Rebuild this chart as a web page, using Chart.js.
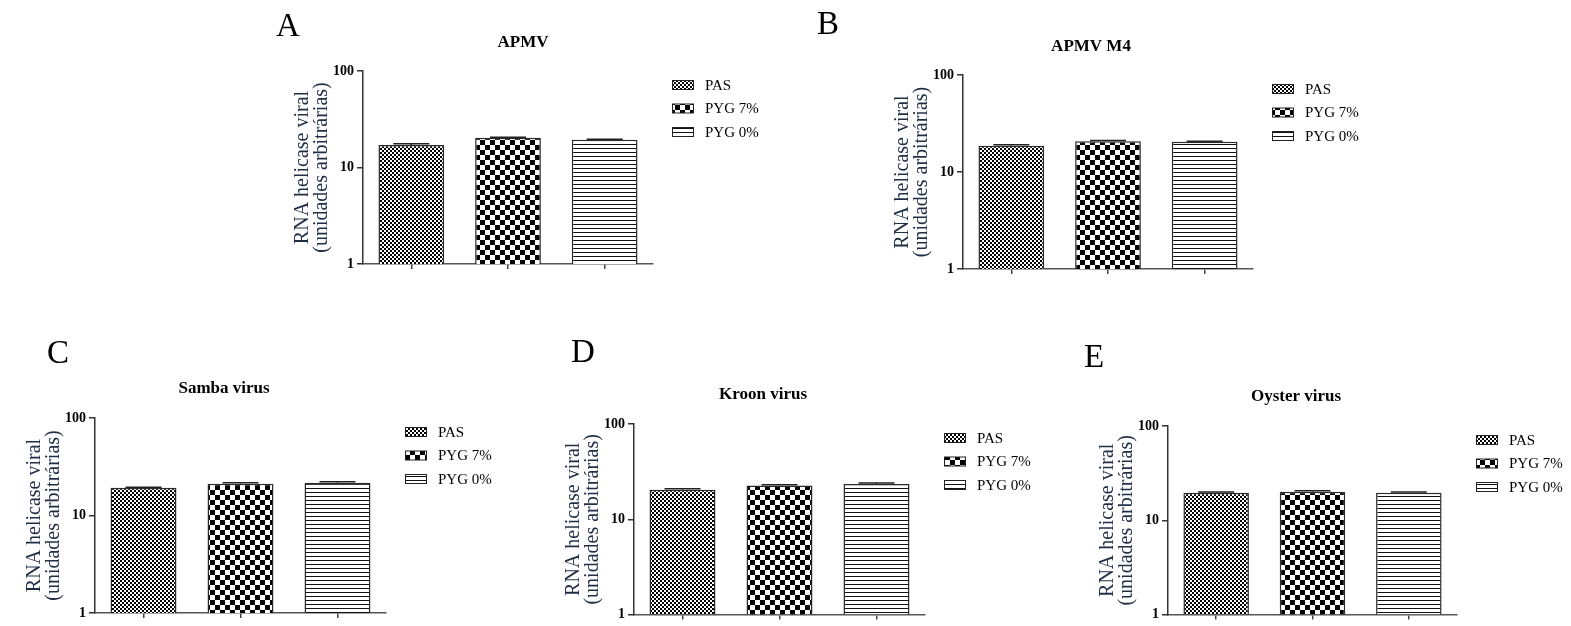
<!DOCTYPE html>
<html>
<head>
<meta charset="utf-8">
<script src="https://cdn.jsdelivr.net/npm/chart.js@4"></script>
<style>
  html, body { margin: 0; padding: 0; background: #fff; }
  #wrap { position: relative; width: 1571px; height: 626px; overflow: hidden; }
  #wrap canvas { position: absolute; left: 0; top: 0; }
</style>
</head>
<body>
<div id="wrap"></div>
<script>
// Data
const categories = ['PAS', 'PYG 7%', 'PYG 0%'];
const panelLetters = ['A', 'B', 'C', 'D', 'E'];
const panelTitles = ['APMV', 'APMV M4', 'Samba virus', 'Kroon virus', 'Oyster virus'];
const yTicks = [1, 10, 100];
const yLabel = ['RNA helicase viral', '(unidades arbitrárias)'];

const apmvValues = [17.1, 20.3, 19.4];
const apmvErrors = [0.5, 0.3, 0.2];
const apmvM4Values = [18.7, 20.7, 20.5];
const apmvM4Errors = [0.4, 0.4, 0.3];
const sambaValues = [19.3, 21.2, 21.7];
const sambaErrors = [0.2, 0.5, 0.5];
const kroonValues = [20.4, 22.6, 23.5];
const kroonErrors = [0.5, 0.5, 0.5];
const oysterValues = [19.6, 20.1, 19.6];
const oysterErrors = [0.4, 0.5, 0.4];

const seriesValues = [apmvValues, apmvM4Values, sambaValues, kroonValues, oysterValues];
const seriesErrors = [apmvErrors, apmvM4Errors, sambaErrors, kroonErrors, oysterErrors];

// where each panel sits on the page (plot area + title / letter)
const layouts = [
    { left: 363, right: 653, top: 71, bottom: 264, titleX: 523, titleY: 43, letterX: 276, letterY: 36 },
    { left: 963, right: 1253, top: 75, bottom: 269, titleX: 1091, titleY: 47, letterX: 817, letterY: 34 },
    { left: 95, right: 386, top: 418, bottom: 613, titleX: 224, titleY: 389, letterX: 47, letterY: 363 },
    { left: 634, right: 925, top: 424, bottom: 617, titleX: 763, titleY: 395, letterX: 571, letterY: 362 },
    { left: 1168, right: 1457, top: 426, bottom: 619, titleX: 1296, titleY: 397, letterX: 1084, letterY: 367 }
];

const W = 1571, H = 626;
const serif = '"Liberation Serif", "Times New Roman", serif';

function makePattern(kind) {
    const c = document.createElement('canvas');
    const g = c.getContext('2d');
    if (kind === 'fine' || kind === 'coarse') {
        const s = kind === 'fine' ? 2 : 5;
        c.width = c.height = s * 2;
        g.fillStyle = '#fff';
        g.fillRect(0, 0, s * 2, s * 2);
        g.fillStyle = '#000';
        g.fillRect(0, 0, s, s);
        g.fillRect(s, s, s, s);
    } else {
        c.width = 4; c.height = 4;
        g.fillStyle = '#fff';
        g.fillRect(0, 0, 4, 4);
        g.fillStyle = '#111';
        g.fillRect(0, 0, 4, 1);
    }
    return g.createPattern(c, 'repeat');
}

const patterns = [makePattern('fine'), makePattern('coarse'), makePattern('lines')];

const decorPlugin = {
    id: 'decor',
    afterDatasetsDraw(chart, args, opts) {
        const ctx = chart.ctx;
        const meta = chart.getDatasetMeta(0);
        const y = chart.scales.y;
        const errs = opts.errors;
        ctx.save();
        ctx.strokeStyle = '#222';
        ctx.lineWidth = 1.5;
        meta.data.forEach((bar, i) => {
            const v = chart.data.datasets[0].data[i];
            const yTop = y.getPixelForValue(v + errs[i]);
            ctx.beginPath();
            ctx.moveTo(bar.x, bar.y);
            ctx.lineTo(bar.x, yTop);
            ctx.moveTo(bar.x - 18, yTop);
            ctx.lineTo(bar.x + 18, yTop);
            ctx.stroke();
        });
        ctx.restore();
    },
    afterDraw(chart, args, opts) {
        const ctx = chart.ctx;
        const area = chart.chartArea;
        ctx.save();
        // panel letter
        ctx.fillStyle = '#000';
        ctx.textAlign = 'left';
        ctx.textBaseline = 'alphabetic';
        ctx.font = '33px ' + serif;
        ctx.fillText(opts.letter, opts.letterX, opts.letterY);
        // title
        ctx.font = 'bold 17px ' + serif;
        ctx.textAlign = 'center';
        ctx.textBaseline = 'middle';
        ctx.fillText(opts.title, opts.titleX, opts.titleY);
        // legend
        ctx.textAlign = 'left';
        ctx.font = '15px ' + serif;
        const bg = chart.data.datasets[0].backgroundColor;
        chart.data.labels.forEach((lab, i) => {
            const cy = area.top + 14 + i * 23.5;
            const bx = area.right + 19;
            ctx.fillStyle = bg[i];
            ctx.fillRect(bx, cy - 4.5, 22, 9);
            ctx.strokeStyle = '#222';
            ctx.lineWidth = 1;
            ctx.strokeRect(bx + 0.5, cy - 4.5, 21, 9);
            ctx.fillStyle = '#000';
            ctx.fillText(lab, area.right + 52, cy + 1);
        });
        ctx.restore();
    }
};

const wrap = document.getElementById('wrap');

seriesValues.forEach((values, p) => {
    const lay = layouts[p];
    const canvas = document.createElement('canvas');
    canvas.width = W;
    canvas.height = H;
    canvas.style.width = W + 'px';
    canvas.style.height = H + 'px';
    wrap.appendChild(canvas);

    new Chart(canvas.getContext('2d'), {
        type: 'bar',
        data: {
            labels: categories,
            datasets: [{
                data: values,
                backgroundColor: patterns,
                borderColor: '#2a2a2a',
                borderWidth: 1.5,
                barPercentage: 0.68,
                categoryPercentage: 1.0
            }]
        },
        options: {
            responsive: false,
            animation: false,
            events: [],
            layout: {
                padding: { left: lay.left - 70, top: lay.top, right: W - lay.right, bottom: H - lay.bottom - 8 }
            },
            scales: {
                x: {
                    ticks: { display: false },
                    grid: { offset: false, drawOnChartArea: false, tickLength: 5, color: '#444', lineWidth: 1.5 },
                    border: { color: '#555', width: 1.5 },
                    afterFit: s => { s.height = 8; }
                },
                y: {
                    type: 'logarithmic',
                    min: 1,
                    max: 100,
                    afterBuildTicks: s => { s.ticks = yTicks.map(v => ({ value: v })); },
                    ticks: {
                        color: '#000',
                        padding: 3,
                        font: { family: serif, size: 14, weight: 'bold' },
                        callback: v => String(v)
                    },
                    grid: { drawOnChartArea: false, tickLength: 6, color: '#333', lineWidth: 1.5 },
                    border: { color: '#333', width: 1.5 },
                    title: {
                        display: true,
                        text: yLabel,
                        color: '#1f2d45',
                        font: { family: serif, size: 20, lineHeight: 0.95 },
                        padding: { top: 0, bottom: 0 }
                    },
                    afterFit: s => { s.width = 70; }
                }
            },
            plugins: {
                legend: { display: false },
                tooltip: { enabled: false },
                decor: {
                    errors: seriesErrors[p],
                    letter: panelLetters[p],
                    title: panelTitles[p],
                    titleX: lay.titleX,
                    titleY: lay.titleY,
                    letterX: lay.letterX,
                    letterY: lay.letterY
                }
            }
        },
        plugins: [decorPlugin]
    });
});
</script>
</body>
</html>
